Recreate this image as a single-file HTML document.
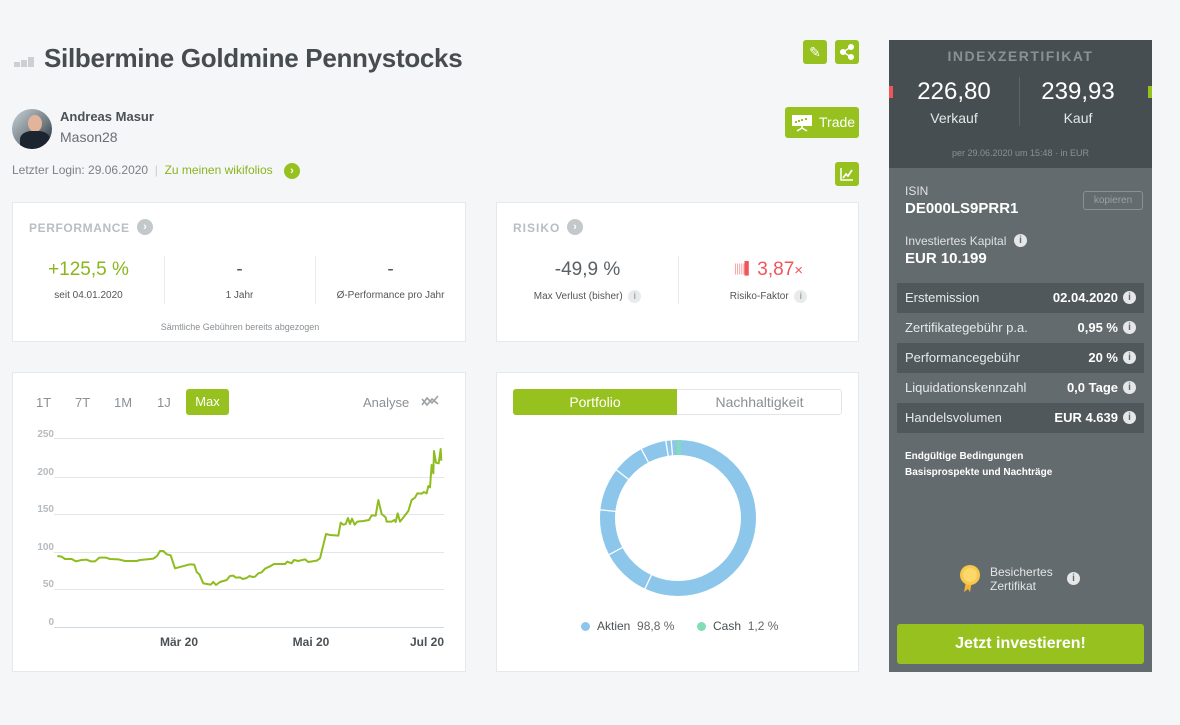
<!DOCTYPE html>
<html><head><meta charset="utf-8">
<style>
*{box-sizing:border-box;margin:0;padding:0}
body{width:1180px;height:725px;background:#f4f6f8;font-family:"Liberation Sans",sans-serif;position:relative;overflow:hidden;color:#4b5154}
.a{position:absolute}
.card{position:absolute;background:#fff;border:1px solid #e6e9eb}
.gbtn{position:absolute;background:#96c11f;border-radius:3px;color:#fff}
.c{text-align:center}
.info{display:inline-block;width:13px;height:13px;border-radius:50%;background:#e8eaeb;color:#9aa;font-size:9px;text-align:center;line-height:13px;font-weight:bold}
.winfo{position:absolute;width:13px;height:13px;border-radius:50%;background:#e5e7e8;color:#646b6e;font-size:10px;font-weight:bold;text-align:center;line-height:13px}
.row{position:absolute;left:897px;width:247px;height:30px;font-size:13px;color:#e6e9ea;line-height:30px;padding-left:8px}
.row b{position:absolute;right:26px;color:#fff}
.row .winfo{right:8px;top:8px}
</style></head><body>

<div class="a" style="left:14px;top:57px;width:20px;height:10px">
<div class="a" style="left:0;top:5px;width:6px;height:5px;background:#ccd0d3"></div>
<div class="a" style="left:7px;top:3px;width:6px;height:7px;background:#ccd0d3"></div>
<div class="a" style="left:14px;top:0;width:6px;height:10px;background:#ccd0d3"></div>
</div>
<div class="a" style="left:44px;top:43px;font-size:26px;font-weight:bold;color:#464c4f;letter-spacing:-0.3px">Silbermine Goldmine Pennystocks</div>

<div class="gbtn" style="left:803px;top:40px;width:24px;height:24px;font-size:14px;text-align:center;line-height:24px">✎</div>
<div class="gbtn" style="left:835px;top:40px;width:24px;height:24px">
<svg width="24" height="24"><g fill="#fff" stroke="#fff" stroke-width="1.5"><circle cx="16" cy="7" r="2.3"/><circle cx="8" cy="12" r="2.3"/><circle cx="16" cy="17" r="2.3"/><line x1="16" y1="7" x2="8" y2="12"/><line x1="8" y1="12" x2="16" y2="17"/></g></svg></div>

<div class="a" style="left:12px;top:109px;width:40px;height:40px;border-radius:50%;background:linear-gradient(135deg,#c9d3da,#6f7a80 60%,#1d2530);overflow:hidden">
<div class="a" style="left:16px;top:6px;width:14px;height:17px;border-radius:50%;background:#e3b49c"></div>
<div class="a" style="left:8px;top:22px;width:30px;height:20px;border-radius:40% 40% 0 0;background:#1c2430"></div></div>
<div class="a" style="left:60px;top:109px;font-size:13px;font-weight:bold;color:#4b5154">Andreas Masur</div>
<div class="a" style="left:60px;top:129px;font-size:14px;color:#6a7074">Mason28</div>
<div class="gbtn" style="left:785px;top:107px;width:74px;height:31px;font-size:14px;line-height:31px;padding-left:34px">Trade
<svg class="a" style="left:6px;top:6px" width="22" height="19"><rect x="1" y="2" width="20" height="11" fill="#fff"/><g fill="#96c11f"><rect x="4" y="8" width="2" height="2"/><rect x="7" y="7" width="2" height="2"/><rect x="10" y="6" width="2" height="2"/><rect x="14" y="5" width="2" height="2"/></g><path d="M11 13 L11 15 M6 18 L11 15 L16 18" stroke="#fff" stroke-width="1.6" fill="none"/></svg></div>

<div class="a" style="left:12px;top:163px;font-size:12px;color:#7b8185">Letzter Login: 29.06.2020 &nbsp;<span style="color:#ccc">|</span>&nbsp; <span style="color:#8bb51c">Zu meinen wikifolios</span></div>
<div class="a" style="left:284px;top:163px;width:16px;height:16px;border-radius:50%;background:#96c11f;color:#fff;font-size:11px;text-align:center;line-height:16px;font-weight:bold">›</div>
<div class="gbtn" style="left:835px;top:162px;width:24px;height:24px">
<svg width="24" height="24"><path d="M6 6 V18 H18" stroke="#fff" stroke-width="1.5" fill="none"/><path d="M8 16 L11 12 L13 14 L17 8" stroke="#fff" stroke-width="1.7" fill="none"/></svg></div>

<div class="card" style="left:12px;top:202px;width:454px;height:140px">
<div class="a" style="left:16px;top:18px;font-size:12px;font-weight:bold;color:#b9bec1;letter-spacing:0.6px">PERFORMANCE</div>
<div class="a" style="left:124px;top:16px;width:16px;height:16px;border-radius:50%;background:#c3c8cb;color:#fff;font-size:11px;text-align:center;line-height:16px;font-weight:bold">›</div>
<div class="a c" style="left:0;top:56px;width:151px;font-size:19px;color:#8bb51c">+125,5 %</div>
<div class="a c" style="left:0;top:87px;width:151px;font-size:10px;color:#555">seit 04.01.2020</div>
<div class="a" style="left:151px;top:53px;width:1px;height:48px;background:#e8eaeb"></div>
<div class="a c" style="left:151px;top:56px;width:151px;font-size:19px;color:#555">-</div>
<div class="a c" style="left:151px;top:87px;width:151px;font-size:10px;color:#555">1 Jahr</div>
<div class="a" style="left:302px;top:53px;width:1px;height:48px;background:#e8eaeb"></div>
<div class="a c" style="left:302px;top:56px;width:151px;font-size:19px;color:#555">-</div>
<div class="a c" style="left:302px;top:87px;width:151px;font-size:10px;color:#555">Ø-Performance pro Jahr</div>
<div class="a c" style="left:0;top:119px;width:454px;font-size:9px;color:#8a9094">Sämtliche Gebühren bereits abgezogen</div>
</div>

<div class="card" style="left:496px;top:202px;width:363px;height:140px">
<div class="a" style="left:16px;top:18px;font-size:12px;font-weight:bold;color:#b9bec1;letter-spacing:1px">RISIKO</div>
<div class="a" style="left:70px;top:16px;width:16px;height:16px;border-radius:50%;background:#c3c8cb;color:#fff;font-size:11px;text-align:center;line-height:16px;font-weight:bold">›</div>
<div class="a c" style="left:0;top:56px;width:181px;font-size:19px;color:#5a6064">-49,9 %</div>
<div class="a c" style="left:0;top:87px;width:181px;font-size:10px;color:#555">Max Verlust (bisher) &nbsp;<span class="info">i</span></div>
<div class="a" style="left:181px;top:53px;width:1px;height:48px;background:#e8eaeb"></div>
<div class="a c" style="left:181px;top:56px;width:181px;font-size:19px;color:#f0555a"><span style="font-size:12px;letter-spacing:-1px;color:#f5a3a5;vertical-align:3px">|||||<span style="color:#f0555a">▌</span></span> 3,87<span style="font-size:15px">×</span></div>
<div class="a c" style="left:181px;top:87px;width:181px;font-size:10px;color:#555">Risiko-Faktor &nbsp;<span class="info">i</span></div>
</div>

<div class="card" style="left:12px;top:372px;width:454px;height:300px"></div>
<div class="a" style="left:36px;top:395px;font-size:13px;color:#8a9094">1T</div>
<div class="a" style="left:75px;top:395px;font-size:13px;color:#8a9094">7T</div>
<div class="a" style="left:114px;top:395px;font-size:13px;color:#8a9094">1M</div>
<div class="a" style="left:157px;top:395px;font-size:13px;color:#8a9094">1J</div>
<div class="gbtn" style="left:186px;top:389px;width:43px;height:26px;font-size:13px;line-height:26px;text-align:center">Max</div>
<div class="a" style="left:363px;top:395px;font-size:13px;color:#8a9094">Analyse</div>
<svg class="a" style="left:420px;top:393px" width="20" height="16"><path d="M2 12 L7 5 L12 10 L18 3 M2 6 L7 12 L12 6 L18 11" stroke="#9ba1a5" stroke-width="1.6" fill="none"/></svg>
<svg class="a" style="left:0;top:0" width="470" height="680">
<g stroke="#e3e6e8" stroke-width="1">
<line x1="54" y1="438.5" x2="444" y2="438.5"/><line x1="54" y1="477.5" x2="444" y2="477.5"/><line x1="54" y1="514.5" x2="444" y2="514.5"/><line x1="54" y1="552.5" x2="444" y2="552.5"/><line x1="54" y1="589.5" x2="444" y2="589.5"/></g>
<line x1="54" y1="627.5" x2="444" y2="627.5" stroke="#cfd7df"/>
<g font-size="10" fill="#b6bbbf" font-weight="bold" text-anchor="end" font-family="Liberation Sans">
<text x="54" y="437">250</text><text x="54" y="475">200</text><text x="54" y="512">150</text><text x="54" y="550">100</text><text x="54" y="587">50</text><text x="54" y="625">0</text></g>
<g font-size="12" fill="#4b5154" font-weight="bold" text-anchor="middle" font-family="Liberation Sans">
<text x="179" y="646">Mär 20</text><text x="311" y="646">Mai 20</text><text x="427" y="646">Jul 20</text></g>
<g transform="translate(0,370) scale(0.33333)">
<polyline fill="none" stroke="#8fbc1e" stroke-width="6" stroke-linejoin="round" points="172,558 185,560 195,567 215,567 228,574 245,570 260,569 272,574 285,574 298,563 318,563 330,567 355,568 375,573 410,573 420,570 440,568 460,566 472,557 480,543 490,543 500,553 512,556 525,595 570,583 583,584 590,606 598,613 610,640 632,644 640,636 648,645 660,636 680,630 690,618 700,617 708,623 720,622 728,627 740,624 748,618 758,621 765,620 775,610 785,607 795,596 810,589 822,582 855,582 862,575 875,580 882,570 895,573 915,568 925,576 950,572 960,565 978,492 990,495 1015,497 1022,458 1030,464 1037,462 1044,444 1050,462 1056,446 1064,464 1072,455 1090,453 1107,450 1115,436 1127,437 1135,390 1145,432 1157,442 1160,455 1175,455 1183,450 1187,456 1193,430 1200,455 1212,440 1225,423 1235,390 1245,383 1252,370 1265,371 1272,366 1280,370 1285,348 1290,352 1295,285 1300,310 1302,243 1308,278 1316,280 1322,237 1324,272"/>
</g>
</svg>

<div class="card" style="left:496px;top:372px;width:363px;height:300px"></div>
<div class="a" style="left:513px;top:389px;width:329px;height:26px;border:1px solid #e3e6e8;border-radius:3px;background:#fff"></div>
<div class="a c" style="left:513px;top:389px;width:164px;height:26px;background:#96c11f;border-radius:3px 0 0 3px;color:#fff;font-size:14px;line-height:26px">Portfolio</div>
<div class="a c" style="left:677px;top:389px;width:165px;height:26px;color:#8a9094;font-size:14px;line-height:26px">Nachhaltigkeit</div>
<svg class="a" style="left:598px;top:438px" width="160" height="160">
<circle cx="80" cy="80" r="70.5" fill="none" stroke="#8cc6eb" stroke-width="15"/>
<circle cx="80" cy="80" r="70.5" fill="none" stroke="#84dbb7" stroke-width="15" stroke-dasharray="4 600" transform="rotate(-91 80 80)"/>
<g stroke="#fff" stroke-width="1.3" transform="translate(80,80)">
<line x1="0" y1="-62" x2="0" y2="-80" transform="rotate(205)"/>
<line x1="0" y1="-62" x2="0" y2="-80" transform="rotate(242)"/>
<line x1="0" y1="-62" x2="0" y2="-80" transform="rotate(276)"/>
<line x1="0" y1="-62" x2="0" y2="-80" transform="rotate(308)"/>
<line x1="0" y1="-62" x2="0" y2="-80" transform="rotate(332)"/>
<line x1="0" y1="-62" x2="0" y2="-80" transform="rotate(351)"/>
<line x1="0" y1="-62" x2="0" y2="-80" transform="rotate(355)"/>
</g></svg>
<div class="a" style="left:581px;top:622px;width:9px;height:9px;border-radius:50%;background:#8cc6eb"></div>
<div class="a" style="left:597px;top:619px;font-size:12px;color:#4b5154">Aktien &nbsp;<span style="color:#666">98,8 %</span></div>
<div class="a" style="left:697px;top:622px;width:9px;height:9px;border-radius:50%;background:#84dbb7"></div>
<div class="a" style="left:713px;top:619px;font-size:12px;color:#4b5154">Cash &nbsp;<span style="color:#666">1,2 %</span></div>

<div class="a" style="left:889px;top:40px;width:263px;height:128px;background:#474e51"></div>
<div class="a" style="left:889px;top:168px;width:263px;height:504px;background:#646b6e"></div>
<div class="a c" style="left:889px;top:48px;width:263px;font-size:14px;font-weight:bold;color:#8a9194;letter-spacing:1.5px">INDEXZERTIFIKAT</div>
<div class="a" style="left:889px;top:86px;width:4px;height:12px;background:#f0555a"></div>
<div class="a" style="left:1148px;top:86px;width:4px;height:12px;background:#96c11f"></div>
<div class="a" style="left:1019px;top:77px;width:1px;height:49px;background:#5d6468"></div>
<div class="a c" style="left:889px;top:78px;width:130px;font-size:24px;color:#fff">226,80</div>
<div class="a c" style="left:889px;top:110px;width:130px;font-size:14px;color:#e5e8e9">Verkauf</div>
<div class="a c" style="left:1020px;top:78px;width:116px;font-size:24px;color:#fff">239,93</div>
<div class="a c" style="left:1020px;top:110px;width:116px;font-size:14px;color:#e5e8e9">Kauf</div>
<div class="a c" style="left:889px;top:148px;width:263px;font-size:9px;color:#8a9194">per 29.06.2020 um 15:48 · in EUR</div>

<div class="a" style="left:905px;top:184px;font-size:12px;color:#dfe2e3">ISIN</div>
<div class="a" style="left:905px;top:200px;font-size:15px;font-weight:bold;color:#fff">DE000LS9PRR1</div>
<div class="a c" style="left:1083px;top:191px;width:60px;height:19px;border:1px solid #8a9194;border-radius:3px;font-size:10px;line-height:17px;color:#9aa0a3">kopieren</div>
<div class="a" style="left:905px;top:234px;font-size:12px;color:#dfe2e3">Investiertes Kapital</div>
<div class="winfo" style="left:1014px;top:234px">i</div>
<div class="a" style="left:905px;top:250px;font-size:15px;font-weight:bold;color:#fff">EUR 10.199</div>

<div class="row" style="top:283px;background:#51585b">Erstemission<b>02.04.2020</b><span class="winfo">i</span></div>
<div class="row" style="top:313px">Zertifikategebühr p.a.<b>0,95 %</b><span class="winfo">i</span></div>
<div class="row" style="top:343px;background:#51585b">Performancegebühr<b>20 %</b><span class="winfo">i</span></div>
<div class="row" style="top:373px">Liquidationskennzahl<b>0,0 Tage</b><span class="winfo">i</span></div>
<div class="row" style="top:403px;background:#51585b">Handelsvolumen<b>EUR 4.639</b><span class="winfo">i</span></div>
<div class="a" style="left:905px;top:449px;font-size:10px;font-weight:bold;color:#fff;line-height:16px">Endgültige Bedingungen<br>Basisprospekte und Nachträge</div>

<svg class="a" style="left:958px;top:563px" width="24" height="30"><path d="M8 18 L6 29 L10 26 L12 29 L14 18Z" fill="#f2b533"/><circle cx="12" cy="12" r="10" fill="#f6c84c"/><circle cx="12" cy="12" r="7" fill="#fcd76a"/></svg>
<div class="a" style="left:990px;top:565px;font-size:12px;color:#e3e6e7;line-height:14px">Besichertes<br>Zertifikat</div>
<div class="winfo" style="left:1067px;top:572px">i</div>
<div class="gbtn" style="left:897px;top:624px;width:247px;height:40px;font-size:16px;font-weight:bold;line-height:40px;text-align:center">Jetzt investieren!</div>
</body></html>
